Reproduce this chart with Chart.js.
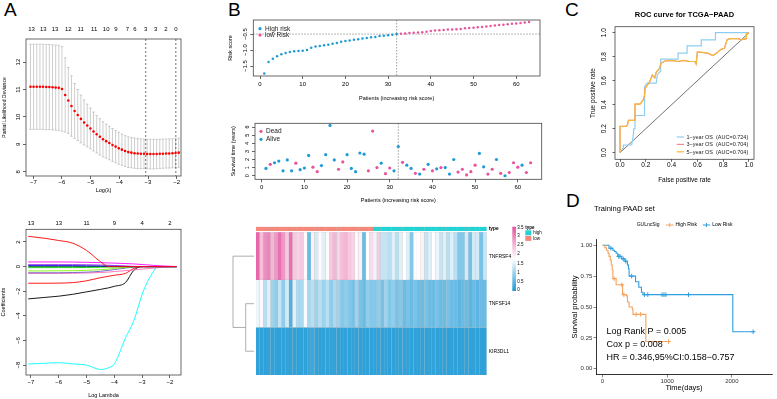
<!DOCTYPE html>
<html>
<head>
<meta charset="utf-8">
<script src="https://cdn.jsdelivr.net/npm/chart.js@4.4.0/dist/chart.umd.min.js"></script>
<style>
body { margin: 0; background: #fff; width: 777px; height: 399px; overflow: hidden; position: relative; font-family: "Liberation Sans", Arial, sans-serif; }
canvas { position: absolute; }
.tag { position: absolute; font-size: 19px; line-height: 19px; color: #000; }
</style>
</head>
<body>
<div class="tag" style="left:4px;top:0px">A</div>
<div class="tag" style="left:228px;top:0px">B</div>
<div class="tag" style="left:565px;top:0px">C</div>
<div class="tag" style="left:566px;top:191px">D</div>

<canvas id="cvA1" width="190" height="180" style="left:0;top:20px"></canvas>
<canvas id="cvA2" width="190" height="189" style="left:0;top:210px"></canvas>
<canvas id="cvB1" width="320" height="90" style="left:225px;top:16px"></canvas>
<canvas id="cvB2" width="322" height="90" style="left:225px;top:116px"></canvas>
<canvas id="cvB3" width="335" height="170" style="left:225px;top:215px"></canvas>
<canvas id="cvC" width="192" height="190" style="left:585px;top:0"></canvas>
<canvas id="cvD" width="207" height="201" style="left:570px;top:198px"></canvas>

<script>
// ---- A: lasso cross-validation ----
const logLambda = [-7.10,-6.99,-6.88,-6.77,-6.66,-6.55,-6.44,-6.33,-6.22,-6.11,-6.00,-5.89,-5.78,-5.67,-5.56,-5.45,
  -5.34,-5.23,-5.12,-5.01,-4.90,-4.79,-4.68,-4.57,-4.46,-4.35,-4.24,-4.13,-4.02,-3.91,-3.80,-3.69,-3.58,-3.47,
  -3.36,-3.25,-3.14,-3.03,-2.92,-2.81,-2.70,-2.59,-2.48,-2.37,-2.26,-2.15,-2.04,-1.93];
const cvDeviance = [11.10,11.10,11.10,11.10,11.10,11.09,11.09,11.08,11.07,11.06,11.02,10.80,10.60,10.40,10.22,10.07,
  9.93,9.80,9.69,9.58,9.47,9.37,9.28,9.19,9.12,9.05,8.98,8.92,8.86,8.81,8.76,8.72,8.70,8.68,
  8.67,8.66,8.66,8.65,8.65,8.65,8.65,8.66,8.66,8.67,8.67,8.68,8.69,8.70];
const cvSd = [1.55,1.55,1.55,1.55,1.55,1.55,1.55,1.55,1.55,1.55,1.54,1.35,1.20,1.10,1.00,0.93,
  0.87,0.82,0.78,0.74,0.71,0.68,0.66,0.64,0.62,0.61,0.60,0.59,0.58,0.57,0.56,0.56,0.55,0.55,
  0.55,0.54,0.54,0.54,0.54,0.54,0.53,0.53,0.53,0.53,0.53,0.53,0.53,0.53];
const cvTopPos = [-7.06,-6.65,-6.24,-5.78,-5.35,-4.88,-4.46,-4.12,-3.72,-3.46,-3.08,-2.73,-2.38,-2.03];
const cvTopLabels = ['13','13','13','12','11','11','10','9','7','6','3','3','2','0'];
const lambdaMin = -3.08, lambda1se = -2.03;
const cvXTicks = [-7,-6,-5,-4,-3,-2];
const cvYTicks = [8,9,10,11,12];

// ---- A: coefficient paths ----
const pathLambda = [-7.1,-6.5,-6.0,-5.5,-5.0,-4.5,-4.2,-4.0,-3.6,-3.3,-3.0,-2.8,-2.6,-2.45,-2.2,-2.0,-1.76];
const coefRed1   = [2.46,2.30,2.12,1.90,1.31,0.40,0,0,0,0,0,0,0,0,0,0,0];
const coefMag    = [0.38,0.38,0.38,0.37,0.35,0.32,0.30,0.28,0.25,0.22,0.17,0.14,0.10,0.08,0.05,0.03,0];
const coefPurple = [0.16,0.16,0.16,0.16,0.15,0.13,0.11,0.09,0.05,0.02,0,0,0,0,0,0,0];
const coefBlue   = [0.08,0.08,0.08,0.08,0.07,0.06,0.05,0.04,0.02,0,0,0,0,0,0,0,0];
const coefDkGrn  = [0.02,0.02,0.02,0.02,0.015,0.01,0.005,0,0,0,0,0,0,0,0,0,0];
const coefGreen  = [-0.08,-0.08,-0.08,-0.08,-0.07,-0.05,-0.03,-0.02,0,0,0,0,0,0,0,0,0];
const coefLtGrn  = [-0.35,-0.35,-0.34,-0.33,-0.30,-0.25,-0.20,-0.15,-0.06,0,0,0,0,0,0,0,0];
const coefBlPur  = [-0.50,-0.50,-0.50,-0.48,-0.45,-0.38,-0.30,-0.24,-0.12,-0.04,0,0,0,0,0,0,0];
const coefPink   = [-0.55,-0.55,-0.55,-0.54,-0.52,-0.48,-0.44,-0.40,-0.33,-0.27,-0.20,-0.16,-0.12,-0.09,-0.05,-0.02,0];
const coefRed2   = [-1.35,-1.35,-1.34,-1.30,-1.15,-0.90,-0.78,-0.70,-0.55,-0.15,0,0,0,0,0,0,0];
const coefBlack  = [-2.62,-2.50,-2.40,-2.25,-2.05,-1.85,-1.72,-1.60,-1.30,-0.30,0,0,0,0,0,0,0];
const coefCyan   = [-7.90,-7.85,-7.80,-7.90,-8.00,-8.35,-8.20,-7.90,-5.80,-4.40,-2.26,-1.20,-0.43,0,0,0,0];
const pathTopPos = [-7,-6,-5,-4,-3,-2];
const pathTopLabels = ['13','13','11','9','4','2'];
const pathYTicks = [-8,-6,-4,-2,0,2];

// ---- B: risk score / survival / heatmap ----
const riskScore = [-1.73,-1.37,-1.27,-1.19,-1.13,-1.09,-1.06,-1.04,-1.03,-1.02,-1.00,-0.93,-0.89,-0.87,-0.85,-0.83,
  -0.80,-0.78,-0.74,-0.72,-0.70,-0.68,-0.66,-0.64,-0.62,-0.60,-0.59,-0.56,-0.55,-0.54,-0.52,-0.50,
  -0.49,-0.48,-0.47,-0.46,-0.45,-0.44,-0.43,-0.40,-0.39,-0.38,-0.37,-0.36,-0.36,-0.35,-0.34,-0.32,
  -0.31,-0.30,-0.29,-0.28,-0.26,-0.25,-0.23,-0.22,-0.21,-0.19,-0.18,-0.17,-0.15,-0.14,-0.12];
const cutPatient = 32, cutScore = -0.5;
const survYears = [0.9,1.4,1.6,1.8,0.6,1.95,0.6,1.55,0.75,0.95,2.5,1.05,0.5,1.25,2.6,6.2,1.95,0.8,1.7,2.6,
  0.9,0.5,2.8,2.65,0.6,5.5,1.0,1.55,0.25,0.95,0.6,3.6,1.65,1.3,0.9,0.3,0.2,0.8,1.4,0.6,
  0.85,1.0,1.0,0.2,2.0,0.45,0.8,0.1,0.5,1.3,2.75,1.1,0.2,0.8,2.0,0.3,0.0,0.4,1.6,1.05,
  1.3,0.4,1.6];
const survDead = [0,1,0,0,0,0,0,1,0,0,0,1,1,0,0,0,0,1,1,0,
  0,0,0,0,1,1,1,0,1,1,0,0,1,0,0,1,0,1,0,1,
  0,1,0,0,0,1,1,1,1,1,0,0,1,1,0,1,0,1,1,1,
  0,1,1];
const patXTicks = [0,10,20,30,40,50,60];
const riskYTicks = [-1.5,-1.0,-0.5];
const survYTicks = [0,1,2,3,4,5,6];

const geneTNFRSF4 = [3.3,2.4,2.9,3.0,2.5,2.8,3.2,2.8,2.3,3.2, 2.3,2.2,2.3,1.8,0.6,1.9,1.4,1.8,1.5,1.8,
  2.3,2.5,2.2,2.4,2.5,2.3,2.2,1.8,1.9,0.6, 1.75,2.1,1.6,2.3,1.3,1.3,1.2,1.5,1.2,1.5,
  1.75,1.5,0.8,1.8,1.75,1.9,1.3,1.5,1.75,1.6, 1.3,1.5,1.2,1.5,1.2,0.8,0.8,1.4,0.7,1.4, 1.4,0.7,1.3];
const geneTNFSF14 = [1.6,1.8,1.2,1.5,1.0,0.9,1.3,0.9,1.4,0.4, 1.5,1.1,1.1,1.7,1.1,1.2,1.0,1.2,1.0,1.2,
  0.9,1.1,1.0,0.8,0.9,0.8,0.7,1.0,0.7,0.6, 0.9,0.8,0.8,0.9,0.7,1.0,0.8,0.9,0.7,0.8,
  0.6,0.7,0.6,0.7,0.6,0.6,0.7,0.6,0.6,0.7, 0.6,0.6,0.7,0.6,0.6,0.5,0.6,0.6,0.5,0.6, 0.5,0.6,0.6];
const geneKIR3DL1 = [0.15,0.15,0.14,0.16,0.15,0.15,0.14,0.15,0.16,0.15, 0.15,0.14,0.15,0.15,0.22,0.25,0.15,0.14,0.15,0.16,
  0.15,0.15,0.15,0.14,0.15,0.15,0.16,0.15,0.15,0.14, 0.15,0.15,0.15,0.16,0.15,0.15,0.14,0.15,0.15,0.15,
  0.16,0.15,0.15,0.15,0.14,0.15,0.15,0.15,0.16,0.15, 0.15,0.15,0.14,0.15,0.15,0.15,0.15,0.16,0.15,0.15, 0.15,0.14,0.15];
const heatLegendTicks = [0,0.5,1,1.5,2,2.5,3,3.5];

// ---- C: ROC ----
const fpr1 = [0,0.026,0.026,0.09,0.10,0.108,0.116,0.116,0.19,0.19,0.21,0.28,0.29,0.31,0.315,0.45,0.45,0.52,0.52,0.63,0.63,0.74,0.74,0.97,1.0];
const tpr1 = [0,0.04,0.064,0.064,0.12,0.20,0.20,0.31,0.31,0.55,0.58,0.58,0.65,0.675,0.78,0.78,0.83,0.83,0.89,0.89,0.94,0.94,1.0,1.0,1.0];
const fpr5 = [0,0,0.047,0.057,0.065,0.116,0.116,0.155,0.18,0.19,0.194,0.21,0.23,0.25,0.27,0.28,0.305,0.315,0.32,0.35,
  0.40,0.45,0.49,0.54,0.58,0.59,0.60,0.68,0.72,0.75,0.78,0.81,0.83,0.85,0.92,0.935,0.98,0.98,1.0];
const tpr5 = [0,0.22,0.22,0.23,0.27,0.27,0.405,0.405,0.44,0.48,0.536,0.56,0.59,0.647,0.625,0.67,0.70,0.736,0.75,0.764,
  0.77,0.76,0.77,0.76,0.76,0.74,0.84,0.83,0.81,0.83,0.86,0.87,0.94,0.95,0.95,0.94,0.95,0.99,1.0];
const fpr3 = fpr5, tpr3 = tpr5;
const rocLegend = ['1\u2212year OS  (AUC=0.724)', '3\u2212year OS  (AUC=0.704)', '5\u2212year OS  (AUC=0.704)'];
const rocTicks = [0,0.2,0.4,0.6,0.8,1.0];

// ---- D: Kaplan-Meier ----
const kmHighT = [0,35,60,85,100,120,135,150,160,210,310,370,386,411,461,471,670,1020];
const kmHighS = [1,0.98,0.96,0.935,0.91,0.88,0.84,0.80,0.73,0.68,0.60,0.59,0.54,0.50,0.48,0.44,0.22,0.22];
const kmLowT = [0,100,160,185,210,235,296,346,386,401,411,511,561,602,627,2015,2330];
const kmLowS = [1,0.976,0.96,0.95,0.935,0.91,0.89,0.87,0.84,0.81,0.75,0.705,0.66,0.62,0.60,0.30,0.30];
const cenHighT = [180,300,330,520,590,1020];
const cenHighS = [0.73,0.68,0.60,0.44,0.44,0.22];
const cenLowT = [130,250,270,320,360,450,650,700,920,950,980,1330,2330];
const cenLowS = [0.976,0.91,0.91,0.89,0.87,0.75,0.60,0.60,0.60,0.60,0.60,0.60,0.30];
const kmXTicks = [0,1000,2000];
const kmYTicks = [0,0.25,0.5,0.75,1];
const kmNotes = ['Log Rank P = 0.005', 'Cox p = 0.008', 'HR = 0.346,95%CI:0.158\u22120.757'];

const FONT = '"Liberation Sans", Arial, sans-serif';
Chart.defaults.font.family = FONT;
Chart.defaults.color = '#000';
Chart.defaults.animation = false;
Chart.defaults.responsive = false;
Chart.defaults.plugins.legend.display = false;
Chart.defaults.plugins.tooltip.enabled = false;

const BLUE = '#1E9BD7', PINK = '#E8559B';
const minus = v => String(v).replace('-', '\u2212');
const ticksAt = arr => s => { s.ticks = arr.map(v => ({ value: v })); };

// R-like axis: ticks outside, no axis line (box drawn by plugin)
function rAxis(o) {
  const left = o.pos === 'left';
  return {
    type: 'linear', position: o.pos || 'bottom', min: o.min, max: o.max,
    afterBuildTicks: ticksAt(o.ticks),
    afterFit: s => { if (left) s.width = o.size; else s.height = o.size; },
    grid: { drawOnChartArea: false, tickLength: o.tl || 3, color: '#000', lineWidth: 0.6 },
    border: { display: false },
    ticks: { display: !left, font: { size: o.font || 6, lineHeight: 1 }, padding: o.pad || 0, maxRotation: 0, autoSkip: false, callback: o.cb || (v => minus(v)) },
    title: { display: true, text: o.title, font: { size: o.tfont || 5.5 }, padding: o.tpad }
  };
}

const rBox = {
  id: 'rBox',
  afterDraw(chart) {
    const { ctx, chartArea: a } = chart;
    ctx.save();
    ctx.strokeStyle = '#444'; ctx.lineWidth = 0.8;
    ctx.strokeRect(a.left, a.top, a.width, a.height);
    ctx.restore();
  }
};

// y tick labels rotated like base R
const rotY = {
  id: 'rotY',
  afterDraw(chart, args, opts) {
    const { ctx, chartArea: a } = chart;
    const s = chart.scales.y;
    ctx.save();
    ctx.font = (opts.size || 6) + 'px ' + FONT;
    ctx.fillStyle = '#000'; ctx.textAlign = 'center'; ctx.textBaseline = 'bottom';
    s.ticks.forEach(t => {
      ctx.save();
      ctx.translate(a.left - (opts.gap || 5), s.getPixelForValue(t.value));
      ctx.rotate(-Math.PI / 2);
      ctx.fillText(t.label, 0, 0);
      ctx.restore();
    });
    ctx.restore();
  }
};

// ---------- A top ----------
const errBars = {
  id: 'errBars',
  beforeDatasetsDraw(chart) {
    const { ctx, chartArea: a, scales: { x, y } } = chart;
    ctx.save();
    ctx.strokeStyle = '#B8B8B8'; ctx.lineWidth = 0.7;
    logLambda.forEach((l, i) => {
      const px = x.getPixelForValue(l);
      const hi = y.getPixelForValue(cvDeviance[i] + cvSd[i]);
      const lo = y.getPixelForValue(cvDeviance[i] - cvSd[i]);
      ctx.beginPath();
      ctx.moveTo(px, hi); ctx.lineTo(px, lo);
      ctx.moveTo(px - 1.3, hi); ctx.lineTo(px + 1.3, hi);
      ctx.moveTo(px - 1.3, lo); ctx.lineTo(px + 1.3, lo);
      ctx.stroke();
    });
    ctx.strokeStyle = '#333'; ctx.setLineDash([2, 2]);
    [lambdaMin, lambda1se].forEach(l => {
      const px = x.getPixelForValue(l);
      ctx.beginPath(); ctx.moveTo(px, a.top); ctx.lineTo(px, a.bottom); ctx.stroke();
    });
    ctx.restore();
  }
};

new Chart(document.getElementById('cvA1'), {
  type: 'scatter',
  data: { datasets: [{ data: logLambda.map((x, i) => ({ x, y: cvDeviance[i] })), pointRadius: 1.3, pointBackgroundColor: '#FF0000', pointBorderWidth: 0 }] },
  options: {
    layout: { padding: { right: 9 } },
    scales: {
      x: rAxis({ min: -7.255, max: -1.85, ticks: cvXTicks, size: 24, pad: 0.5, title: 'Log(\u03bb)', tpad: { top: 0, bottom: 6 } }),
      x2: {
        type: 'linear', position: 'top', min: -7.255, max: -1.85,
        afterBuildTicks: ticksAt(cvTopPos), afterFit: s => { s.height = 19; },
        grid: { display: false, drawTicks: false }, border: { display: false },
        ticks: { font: { size: 6 }, padding: 6, autoSkip: false, maxRotation: 0, callback: (v, i) => cvTopLabels[i] }
      },
      y: rAxis({ pos: 'left', min: 7.85, max: 12.84, ticks: cvYTicks, size: 26, title: 'Partial Likelihood Deviance', tfont: 5, tpad: { top: 2, bottom: 0 } })
    },
    plugins: { rotY: { size: 6, gap: 5 } }
  },
  plugins: [errBars, rBox, rotY]
});

// ---------- A bottom ----------
const pathSets = [
  [coefRed1, '#FF0000'], [coefMag, '#FF00FF'], [coefPurple, '#8A2BE2'], [coefBlue, '#0000FF'],
  [coefDkGrn, '#006400'], [coefGreen, '#00CD00'], [coefLtGrn, '#7CFC00'], [coefBlPur, '#6A5ACD'],
  [coefPink, '#FF69B4'], [coefRed2, '#FF0000'], [coefBlack, '#000000'], [coefCyan, '#00FFFF']
];
new Chart(document.getElementById('cvA2'), {
  type: 'line',
  data: {
    datasets: pathSets.map(([vals, col]) => ({
      data: pathLambda.map((x, i) => ({ x, y: vals[i] })),
      borderColor: col, borderWidth: 0.9, pointRadius: 0, cubicInterpolationMode: 'monotone'
    }))
  },
  options: {
    layout: { padding: { right: 9 } },
    scales: {
      x: rAxis({ min: -7.18, max: -1.60, ticks: cvXTicks, size: 24, pad: 1, title: 'Log Lambda', tpad: { top: 0, bottom: 0.5 } }),
      x2: {
        type: 'linear', position: 'top', min: -7.18, max: -1.60,
        afterBuildTicks: ticksAt(pathTopPos), afterFit: s => { s.height = 19.3; },
        grid: { display: false, drawTicks: false }, border: { display: false },
        ticks: { font: { size: 6 }, padding: 2.7, autoSkip: false, maxRotation: 0, callback: (v, i) => pathTopLabels[i] }
      },
      y: rAxis({ pos: 'left', min: -8.8, max: 3.03, ticks: pathYTicks, size: 26, title: 'Coefficients', tfont: 5.5, tpad: { top: 0, bottom: 0 } })
    },
    plugins: { rotY: { size: 6, gap: 5 } }
  },
  plugins: [rBox, rotY]
});

// ---------- B risk plots ----------
const refLines = {
  id: 'refLines',
  beforeDatasetsDraw(chart, args, opts) {
    const { ctx, chartArea: a, scales: { x, y } } = chart;
    ctx.save();
    ctx.strokeStyle = '#888'; ctx.lineWidth = 0.8; ctx.setLineDash([1.5, 1.5]);
    if (opts.vx !== undefined) {
      const px = x.getPixelForValue(opts.vx);
      ctx.beginPath(); ctx.moveTo(px, a.top); ctx.lineTo(px, a.bottom); ctx.stroke();
    }
    if (opts.hy !== undefined) {
      const py = y.getPixelForValue(opts.hy);
      ctx.beginPath(); ctx.moveTo(a.left, py); ctx.lineTo(a.right, py); ctx.stroke();
    }
    ctx.restore();
  }
};
const dotLegend = {
  id: 'dotLegend',
  afterDraw(chart, args, opts) {
    const { ctx, chartArea: a } = chart;
    ctx.save();
    ctx.font = '6.5px ' + FONT; ctx.textBaseline = 'middle'; ctx.fillStyle = '#000';
    opts.items.forEach((it, i) => {
      const y = a.top + opts.y + i * opts.step;
      ctx.fillStyle = it.color;
      ctx.beginPath(); ctx.arc(a.left + opts.x, y, 1.6, 0, Math.PI * 2); ctx.fill();
      ctx.fillStyle = '#222';
      ctx.fillText(it.label, a.left + opts.x + 5, y + 0.3);
    });
    ctx.restore();
  }
};

new Chart(document.getElementById('cvB1'), {
  type: 'scatter',
  data: { datasets: [{
    data: riskScore.map((v, i) => ({ x: i + 1, y: v })),
    pointRadius: 1.25, pointBorderWidth: 0,
    pointBackgroundColor: riskScore.map((v, i) => (i + 1 <= cutPatient ? BLUE : PINK))
  }] },
  options: {
    layout: { padding: { top: 4, right: 5 } },
    scales: {
      x: rAxis({ min: -1.57, max: 65.57, ticks: patXTicks, size: 30, pad: 2, title: 'Patients (increasing risk score)', tfont: 5.5, tpad: { top: 0, bottom: 4 } }),
      y: rAxis({ pos: 'left', min: -1.81, max: -0.06, ticks: riskYTicks, size: 28.3, cb: v => minus(v.toFixed(1)), title: 'Risk score', tfont: 5.5, tpad: { top: 2.4, bottom: 0 } })
    },
    plugins: {
      rotY: { size: 6, gap: 5 },
      refLines: { vx: cutPatient, hy: cutScore },
      dotLegend: { x: 6.7, y: 8.7, step: 6.4, items: [{ label: 'High risk', color: BLUE }, { label: 'low Risk', color: PINK }] }
    }
  },
  plugins: [refLines, rBox, rotY, dotLegend]
});

new Chart(document.getElementById('cvB2'), {
  type: 'scatter',
  data: { datasets: [{
    data: survYears.map((v, i) => ({ x: i + 1, y: v })),
    pointRadius: 1.6, pointBorderWidth: 0,
    pointBackgroundColor: survDead.map(d => (d ? PINK : BLUE))
  }] },
  options: {
    layout: { padding: { top: 7.3, right: 5.3 } },
    scales: {
      x: rAxis({ min: -1.57, max: 65.6, ticks: patXTicks, size: 26.7, pad: 2, title: 'Patients (increasing risk score)', tfont: 5.5, tpad: { top: 0, bottom: 2.7 } }),
      y: rAxis({ pos: 'left', min: -0.44, max: 6.46, ticks: survYTicks, size: 30, title: 'Survival time (years)', tfont: 5.5, tpad: { top: 5, bottom: 0 } })
    },
    plugins: {
      rotY: { size: 5.5, gap: 5 },
      refLines: { vx: cutPatient },
      dotLegend: { x: 6, y: 8, step: 8, items: [{ label: 'Dead', color: PINK }, { label: 'Alive', color: BLUE }] }
    }
  },
  plugins: [refLines, rBox, rotY, dotLegend]
});

// ---------- B heatmap ----------
function heatColor(v) {
  const lo = [28, 153, 214], mid = [255, 255, 255], hi = [227, 84, 158];
  const t = Math.max(0, Math.min(1, v / 3.5));
  const [a, b, u] = t < 0.5 ? [lo, mid, t / 0.5] : [mid, hi, (t - 0.5) / 0.5];
  return 'rgb(' + a.map((c, k) => Math.round(c + (b[k] - c) * u)).join(',') + ')';
}
const TYPE_HIGH = '#22D3D6', TYPE_LOW = '#F5877B';
const patients = riskScore.map((v, i) => String(i + 1));
const heatRows = [['KIR3DL1', geneKIR3DL1], ['TNFSF14', geneTNFSF14], ['TNFRSF4', geneTNFRSF4]];
const cellStyle = { barPercentage: 1, categoryPercentage: 1, borderColor: 'rgba(160,160,160,0.45)', borderWidth: 0.3, borderSkipped: false };

const heatDecor = {
  id: 'heatDecor',
  afterDraw(chart) {
    const { ctx, chartArea: a, scales: { y } } = chart;
    ctx.save();
    // row labels
    ctx.fillStyle = '#000'; ctx.textBaseline = 'middle';
    ctx.font = '5px ' + FONT;
    heatRows.forEach(([name], i) => ctx.fillText(name, a.right + 2, y.getPixelForValue(i + 0.5)));
    ctx.font = 'bold 4.8px ' + FONT;
    ctx.fillText('type', a.right + 2, y.getPixelForValue(3.075));
    // dendrogram
    const y0 = y.getPixelForValue(2.5), y1 = y.getPixelForValue(1.5), y2 = y.getPixelForValue(0.5);
    const xa = a.left - 23, xb = a.left - 10.3, xe = a.left - 2, ym = (y1 + y2) / 2;
    ctx.strokeStyle = '#999'; ctx.lineWidth = 0.8;
    ctx.beginPath();
    ctx.moveTo(xe, y1); ctx.lineTo(xb, y1); ctx.lineTo(xb, y2); ctx.lineTo(xe, y2);
    ctx.moveTo(xb, ym); ctx.lineTo(xa, ym); ctx.lineTo(xa, y0); ctx.lineTo(xe, y0);
    ctx.stroke();
    // colour key
    const bx = a.right + 25.6, bw = 3.7, bt = a.top, bb = a.top + 64.3;
    const g = ctx.createLinearGradient(0, bb, 0, bt);
    [0, 0.25, 0.5, 0.75, 1].forEach(f => g.addColorStop(f, heatColor(f * 3.5)));
    ctx.fillStyle = g; ctx.fillRect(bx, bt, bw, bb - bt);
    ctx.fillStyle = '#000'; ctx.font = '4.5px ' + FONT;
    heatLegendTicks.forEach(v => ctx.fillText(String(v), bx + bw + 1.2, bb - (bb - bt) * v / 3.5 + (v === 3.5 ? 1.5 : v === 0 ? -1 : 0)));
    // type key
    const tx = a.right + 38.6;
    ctx.font = 'bold 4.5px ' + FONT;
    ctx.fillText('type', tx, a.top + 1.2);
    ctx.fillStyle = TYPE_HIGH; ctx.fillRect(tx, a.top + 3.6, 6, 5);
    ctx.fillStyle = TYPE_LOW; ctx.fillRect(tx, a.top + 9.2, 6, 5);
    ctx.fillStyle = '#000'; ctx.font = '4.5px ' + FONT;
    ctx.fillText('high', tx + 8, a.top + 6.1);
    ctx.fillText('low', tx + 8, a.top + 11.7);
    ctx.restore();
  }
};

new Chart(document.getElementById('cvB3'), {
  type: 'bar',
  data: {
    labels: patients,
    datasets: [
      ...heatRows.map(([name, vals]) => Object.assign({ label: name, data: vals.map(() => 1), backgroundColor: vals.map(heatColor) }, cellStyle)),
      Object.assign({ label: 'gap', data: patients.map(() => 0.03), backgroundColor: 'rgba(0,0,0,0)' }, cellStyle, { borderWidth: 0 }),
      Object.assign({ label: 'type', data: patients.map(() => 0.09), backgroundColor: riskScore.map((v, i) => (i + 1 <= cutPatient ? TYPE_LOW : TYPE_HIGH)) }, cellStyle, { borderWidth: 0.2 })
    ]
  },
  options: {
    layout: { padding: { left: 31, right: 73.3, top: 11.7, bottom: 10 } },
    scales: {
      x: { display: false, stacked: true },
      y: { display: false, stacked: true, min: 0, max: 3.12 }
    }
  },
  plugins: [heatDecor]
});

// ---------- C ROC ----------
const ROC1 = '#8FCDEF', ROC3 = '#F08A9A', ROC5 = '#F6B93B';
const rocDecor = {
  id: 'rocDecor',
  afterDraw(chart) {
    const { ctx, chartArea: a } = chart;
    ctx.save();
    ctx.fillStyle = '#000'; ctx.textAlign = 'center'; ctx.textBaseline = 'middle';
    ctx.font = 'bold 7.5px ' + FONT;
    ctx.fillText('ROC curve for TCGA\u2212PAAD', (a.left + a.right) / 2, 14.7);
    ctx.textAlign = 'left'; ctx.font = '5.5px ' + FONT;
    [ROC1, ROC3, ROC5].forEach((c, i) => {
      const y = 137 + i * 7.4;
      ctx.strokeStyle = c; ctx.lineWidth = 1.2;
      ctx.beginPath(); ctx.moveTo(676.7 - 585, y); ctx.lineTo(684 - 585, y); ctx.stroke();
      ctx.fillStyle = '#222'; ctx.fillText(rocLegend[i], 686.5 - 585, y + 0.3);
    });
    ctx.restore();
  }
};
const rocLine = (fx, ty, col) => ({ data: fx.map((x, i) => ({ x, y: ty[i] })), showLine: true, borderColor: col, borderWidth: 1.2, pointRadius: 0 });
new Chart(document.getElementById('cvC'), {
  type: 'scatter',
  data: { datasets: [
    rocLine(fpr5, tpr5, ROC5),
    rocLine(fpr3, tpr3, ROC3),
    rocLine(fpr1, tpr1, ROC1),
    { data: [{ x: 0, y: 0 }, { x: 1, y: 1 }], showLine: true, borderColor: '#333', borderWidth: 0.7, pointRadius: 0 }
  ] },
  options: {
    layout: { padding: { top: 26.7, right: 23 } },
    scales: {
      x: rAxis({ min: -0.039, max: 1.039, ticks: rocTicks, size: 30.7, tl: 2.5, font: 6.5, cb: v => v.toFixed(1), title: 'False positive rate', tfont: 6.5, tpad: { top: 0, bottom: 6 } }),
      y: rAxis({ pos: 'left', min: -0.055, max: 1.05, ticks: rocTicks, size: 30, tl: 2.5, cb: v => v.toFixed(1), title: 'True positive rate', tfont: 6.5, tpad: { top: 4.4, bottom: 0 } })
    },
    plugins: { rotY: { size: 6.5, gap: 7.3 } }
  },
  plugins: [rBox, rotY, rocDecor]
});

// ---------- D Kaplan-Meier ----------
const KM_HIGH = '#F5A25D', KM_LOW = '#2E9FDF';
const kmDecor = {
  id: 'kmDecor',
  afterDraw(chart) {
    const { ctx, scales: { x, y } } = chart;
    ctx.save();
    ctx.fillStyle = '#000'; ctx.textBaseline = 'middle';
    ctx.font = '7.5px ' + FONT;
    ctx.fillText('Training PAAD set', 24, 11);
    ctx.font = '5px ' + FONT;
    ctx.fillText('GULncSig', 66.7, 27);
    [[KM_HIGH, 96, 'High Risk'], [KM_LOW, 132.7, 'Low Risk']].forEach(([c, gx, lab]) => {
      ctx.strokeStyle = c; ctx.lineWidth = 1;
      ctx.beginPath();
      ctx.moveTo(gx, 27); ctx.lineTo(gx + 7.5, 27);
      ctx.moveTo(gx + 3.75, 25); ctx.lineTo(gx + 3.75, 29);
      ctx.stroke();
      ctx.fillStyle = '#000'; ctx.fillText(lab, gx + 9.5, 27);
    });
    ctx.font = '9px ' + FONT;
    const tx = x.getPixelForValue(60);
    [0.305, 0.2, 0.09].forEach((s, i) => ctx.fillText(kmNotes[i], tx, y.getPixelForValue(s)));
    ctx.restore();
  }
};
const kmAxis = (o) => ({
  type: 'linear', position: o.pos, min: o.min, max: o.max,
  afterBuildTicks: ticksAt(o.ticks),
  afterFit: s => { if (o.pos === 'left') s.width = o.size; else s.height = o.size; },
  grid: { drawOnChartArea: false, tickLength: 2.5, color: '#333', lineWidth: 0.6 },
  border: { display: true, color: '#000', width: 0.8 },
  ticks: { font: { size: 6, lineHeight: 1 }, color: '#333', padding: o.pad, autoSkip: false, maxRotation: 0, callback: o.cb },
  title: { display: true, text: o.title, font: { size: 7.5 }, padding: o.tpad }
});
new Chart(document.getElementById('cvD'), {
  type: 'scatter',
  data: { datasets: [
    { data: kmHighT.map((t, i) => ({ x: t, y: kmHighS[i] })), showLine: true, stepped: true, borderColor: KM_HIGH, borderWidth: 1.1, pointRadius: 0 },
    { data: kmLowT.map((t, i) => ({ x: t, y: kmLowS[i] })), showLine: true, stepped: true, borderColor: KM_LOW, borderWidth: 1.1, pointRadius: 0 },
    { data: cenHighT.map((t, i) => ({ x: t, y: cenHighS[i] })), pointStyle: 'cross', pointRadius: 2.3, borderColor: KM_HIGH, pointBorderWidth: 1 },
    { data: cenLowT.map((t, i) => ({ x: t, y: cenLowS[i] })), pointStyle: 'cross', pointRadius: 2.3, borderColor: KM_LOW, pointBorderWidth: 1 }
  ] },
  options: {
    layout: { padding: { top: 41.1 } },
    scales: {
      x: kmAxis({ pos: 'bottom', min: -101, max: 2621, ticks: kmXTicks, size: 24.1, pad: 0.5, cb: v => String(v), title: 'Time(days)', tpad: { top: 0, bottom: 6.8 } }),
      y: kmAxis({ pos: 'left', min: -0.05, max: 1.05, ticks: kmYTicks, size: 26, pad: 1.2, cb: v => v.toFixed(2), title: 'Survival probability', tpad: { top: 0, bottom: 0 } })
    }
  },
  plugins: [kmDecor]
});
</script>
</body>
</html>
